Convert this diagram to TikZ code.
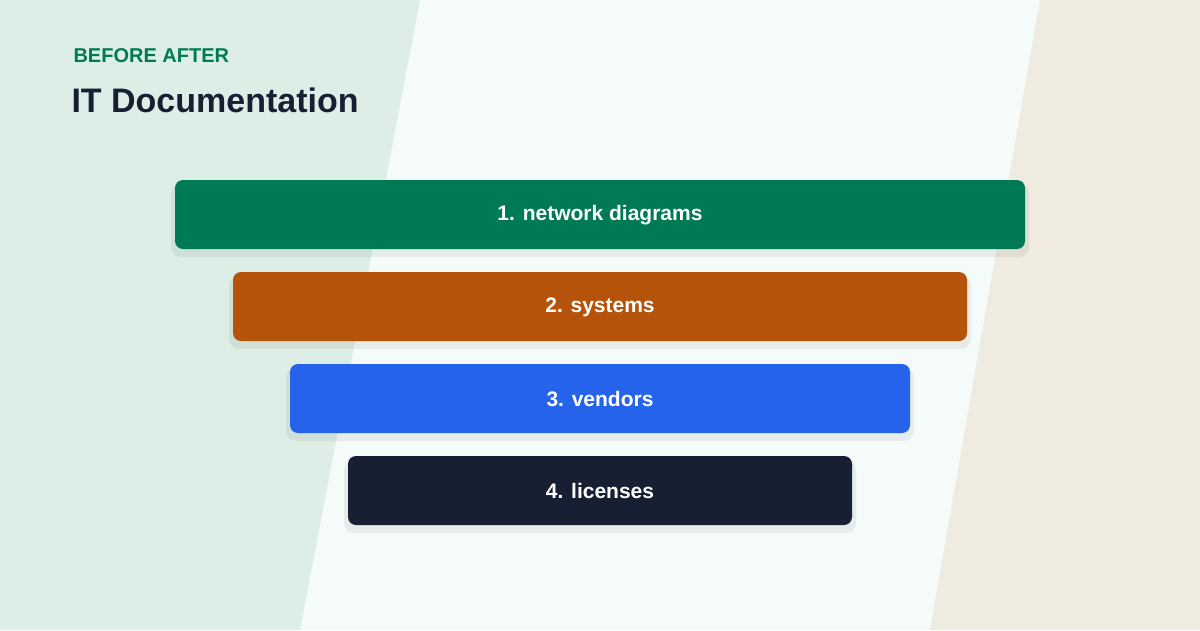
\documentclass[tikz,border=0pt]{standalone}
\usepackage{fontspec}
\setmainfont{Liberation Sans}
\begin{document}
\definecolor{bgl}{HTML}{DCEEE6}\definecolor{bgm}{HTML}{F5FBF8}\definecolor{bgr}{HTML}{F0EBE0}
\definecolor{c1}{HTML}{007A55}\definecolor{c2}{HTML}{B45309}\definecolor{c3}{HTML}{2563EB}\definecolor{c4}{HTML}{172033}
\definecolor{ttl}{HTML}{172033}
\begin{tikzpicture}[x=1pt,y=-1pt,
 bar/.style={rounded corners=8pt,inner sep=0pt,font=\fontsize{21}{25}\selectfont\bfseries,text=white}]
\useasboundingbox (0,0) rectangle (1200,630);
\fill[bgm] (0,0) rectangle (1200,630);
\fill[bgl] (0,0)--(420,0)--(300,630)--(0,630)--cycle;
\fill[bgr] (1040,0)--(1200,0)--(1200,630)--(930,630)--cycle;
\node[anchor=west,text=c1,font=\fontsize{20}{24}\selectfont\bfseries] (k) at (70,56) {BEFORE AFTER};
\node[anchor=west,text=ttl,font=\fontsize{34}{40}\selectfont\bfseries] (t) at (68,100) {IT Documentation};
\foreach \i/\a/\b/\y/\c/\s in {1/175/1025/180/c1/1. network diagrams,2/233/967/272/c2/2. systems,3/290/910/364/c3/3. vendors,4/348/852/456/c4/4. licenses}{
 \fill[black,opacity=0.06,rounded corners=10pt] (\a-4,\y+4) rectangle (\b+4,\y+77);
 \fill[\c,rounded corners=8pt] (\a,\y) rectangle (\b,\y+69);
 \node[bar] (b\i) at ({(\a+\b)/2},\y+35) {\s};
}
\end{tikzpicture}
\end{document}
